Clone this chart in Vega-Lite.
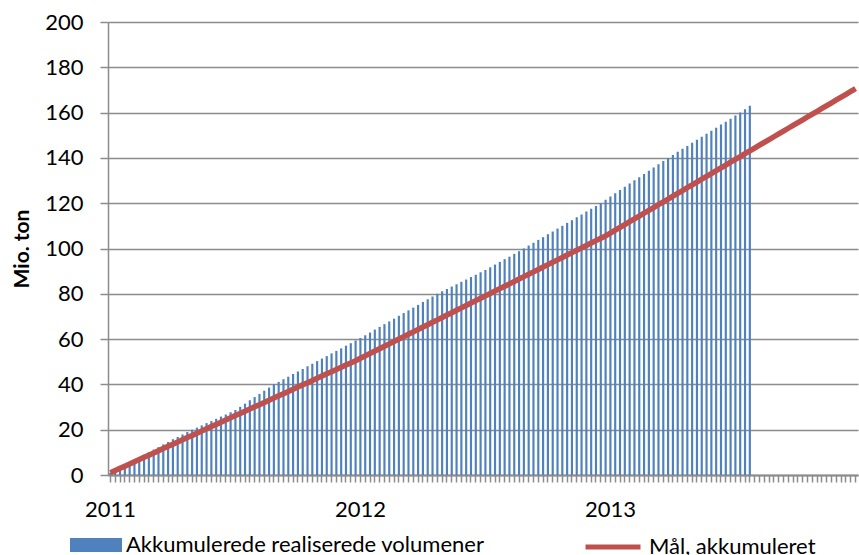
{
"$schema": "https://vega.github.io/schema/vega-lite/v6.json",
"width": 750, "height": 453,
"autosize": {"type": "none"},
"padding": {"left": 108, "top": 22, "right": 1, "bottom": 80},
"background": "white",
"config": {"font": "Lato", "view": {"stroke": null}},
"data": {"values": [
{"w":1,"a":1.0,"t":1.0},{"w":2,"a":2.2,"t":1.97},{"w":3,"a":3.3,"t":2.94},{"w":4,"a":4.5,"t":3.91},{"w":5,"a":5.6,"t":4.88},{"w":6,"a":6.6,"t":5.85},{"w":7,"a":7.8,"t":6.82},{"w":8,"a":8.9,"t":7.79},{"w":9,"a":10.1,"t":8.76},{"w":10,"a":11.2,"t":9.73},
{"w":11,"a":12.3,"t":10.7},{"w":12,"a":13.5,"t":11.67},{"w":13,"a":14.6,"t":12.64},{"w":14,"a":15.8,"t":13.61},{"w":15,"a":16.8,"t":14.58},{"w":16,"a":17.9,"t":15.55},{"w":17,"a":19.0,"t":16.52},{"w":18,"a":20.0,"t":17.49},{"w":19,"a":20.9,"t":18.46},{"w":20,"a":21.9,"t":19.43},
{"w":21,"a":22.9,"t":20.4},{"w":22,"a":23.8,"t":21.37},{"w":23,"a":24.8,"t":22.34},{"w":24,"a":25.8,"t":23.31},{"w":25,"a":26.7,"t":24.28},{"w":26,"a":27.7,"t":25.25},{"w":27,"a":28.7,"t":26.22},{"w":28,"a":30.1,"t":27.19},{"w":29,"a":31.5,"t":28.16},{"w":30,"a":33.0,"t":29.13},
{"w":31,"a":34.4,"t":30.1},{"w":32,"a":35.8,"t":31.07},{"w":33,"a":37.2,"t":32.04},{"w":34,"a":38.6,"t":33.01},{"w":35,"a":40.0,"t":33.98},{"w":36,"a":41.1,"t":34.95},{"w":37,"a":42.3,"t":35.92},{"w":38,"a":43.4,"t":36.89},{"w":39,"a":44.6,"t":37.86},{"w":40,"a":45.7,"t":38.83},
{"w":41,"a":46.8,"t":39.8},{"w":42,"a":48.0,"t":40.77},{"w":43,"a":49.1,"t":41.74},{"w":44,"a":50.3,"t":42.71},{"w":45,"a":51.4,"t":43.68},{"w":46,"a":52.5,"t":44.65},{"w":47,"a":53.7,"t":45.62},{"w":48,"a":54.8,"t":46.59},{"w":49,"a":55.9,"t":47.56},{"w":50,"a":57.1,"t":48.53},
{"w":51,"a":58.2,"t":49.5},{"w":52,"a":59.4,"t":50.47},{"w":53,"a":60.5,"t":51.53},{"w":54,"a":61.7,"t":52.59},{"w":55,"a":62.9,"t":53.65},{"w":56,"a":64.2,"t":54.71},{"w":57,"a":65.4,"t":55.77},{"w":58,"a":66.6,"t":56.83},{"w":59,"a":67.8,"t":57.89},{"w":60,"a":69.0,"t":58.95},
{"w":61,"a":70.3,"t":60.01},{"w":62,"a":71.5,"t":61.07},{"w":63,"a":72.7,"t":62.13},{"w":64,"a":73.9,"t":63.19},{"w":65,"a":75.1,"t":64.25},{"w":66,"a":76.4,"t":65.31},{"w":67,"a":77.6,"t":66.37},{"w":68,"a":78.8,"t":67.43},{"w":69,"a":80.0,"t":68.49},{"w":70,"a":81.1,"t":69.55},
{"w":71,"a":82.1,"t":70.61},{"w":72,"a":83.2,"t":71.67},{"w":73,"a":84.2,"t":72.73},{"w":74,"a":85.3,"t":73.79},{"w":75,"a":86.3,"t":74.85},{"w":76,"a":87.4,"t":75.91},{"w":77,"a":88.4,"t":76.97},{"w":78,"a":89.5,"t":78.03},{"w":79,"a":90.5,"t":79.09},{"w":80,"a":91.7,"t":80.15},
{"w":81,"a":92.9,"t":81.21},{"w":82,"a":94.1,"t":82.27},{"w":83,"a":95.3,"t":83.33},{"w":84,"a":96.4,"t":84.39},{"w":85,"a":97.6,"t":85.45},{"w":86,"a":98.8,"t":86.51},{"w":87,"a":100.0,"t":87.57},{"w":88,"a":101.3,"t":88.63},{"w":89,"a":102.5,"t":89.69},{"w":90,"a":103.8,"t":90.75},
{"w":91,"a":105.0,"t":91.81},{"w":92,"a":106.3,"t":92.87},{"w":93,"a":107.5,"t":93.93},{"w":94,"a":108.8,"t":94.99},{"w":95,"a":110.0,"t":96.05},{"w":96,"a":111.3,"t":97.11},{"w":97,"a":112.5,"t":98.17},{"w":98,"a":113.8,"t":99.23},{"w":99,"a":115.0,"t":100.29},{"w":100,"a":116.3,"t":101.35},
{"w":101,"a":117.5,"t":102.41},{"w":102,"a":118.8,"t":103.47},{"w":103,"a":120.0,"t":104.53},{"w":104,"a":121.5,"t":105.59},{"w":105,"a":123.0,"t":106.84},{"w":106,"a":124.4,"t":108.09},{"w":107,"a":125.8,"t":109.34},{"w":108,"a":127.3,"t":110.59},{"w":109,"a":128.7,"t":111.84},{"w":110,"a":130.1,"t":113.09},
{"w":111,"a":131.5,"t":114.34},{"w":112,"a":132.9,"t":115.59},{"w":113,"a":134.3,"t":116.84},{"w":114,"a":135.8,"t":118.09},{"w":115,"a":137.2,"t":119.34},{"w":116,"a":138.6,"t":120.59},{"w":117,"a":140.0,"t":121.84},{"w":118,"a":141.3,"t":123.09},{"w":119,"a":142.7,"t":124.34},{"w":120,"a":144.0,"t":125.59},
{"w":121,"a":145.3,"t":126.84},{"w":122,"a":146.7,"t":128.09},{"w":123,"a":148.0,"t":129.34},{"w":124,"a":149.3,"t":130.59},{"w":125,"a":150.7,"t":131.84},{"w":126,"a":152.0,"t":133.09},{"w":127,"a":153.3,"t":134.34},{"w":128,"a":154.7,"t":135.59},{"w":129,"a":156.0,"t":136.84},{"w":130,"a":157.3,"t":138.09},
{"w":131,"a":158.7,"t":139.34},{"w":132,"a":160.0,"t":140.59},{"w":133,"a":161.5,"t":141.84},{"w":134,"a":163.0,"t":143.09},{"w":135,"t":144.34},{"w":136,"t":145.59},{"w":137,"t":146.84},{"w":138,"t":148.09},{"w":139,"t":149.34},{"w":140,"t":150.59},
{"w":141,"t":151.84},{"w":142,"t":153.09},{"w":143,"t":154.34},{"w":144,"t":155.59},{"w":145,"t":156.84},{"w":146,"t":158.09},{"w":147,"t":159.34},{"w":148,"t":160.59},{"w":149,"t":161.84},{"w":150,"t":163.09},
{"w":151,"t":164.34},{"w":152,"t":165.59},{"w":153,"t":166.84},{"w":154,"t":168.09},{"w":155,"t":169.34},{"w":156,"t":170.59}
]},
"encoding": {
  "x": {"field": "w", "type": "ordinal", "sort": "ascending",
    "scale": {"paddingInner": 0, "paddingOuter": 0},
    "axis": {"title": null, "labelAngle": 0, "labelOverlap": false,
      "labelExpr": "datum.value == 1 ? '2011' : datum.value == 53 ? '2012' : datum.value == 105 ? '2013' : ''",
      "labelFontSize": 22, "labelColor": "#000000", "labelPadding": 17,
      "tickSize": 7, "tickColor": "#8c8c8c", "tickWidth": 1.5,
      "domainColor": "#8c8c8c", "domainWidth": 2, "grid": false}}
},
"layer": [
  {"mark": {"type": "bar", "width": {"band": 0.45}},
   "transform": [{"filter": "isValid(datum.a)"}],
   "encoding": {
     "y": {"field": "a", "type": "quantitative",
       "scale": {"domain": [0, 200], "nice": false},
       "axis": {"title": "Mio. ton", "titleFontSize": 21, "titleFontWeight": "bold", "titleColor": "#000000",
         "titleX": -80, "titleBaseline": "alphabetic",
         "values": [0,20,40,60,80,100,120,140,160,180,200],
         "labelFontSize": 22, "labelColor": "#000000", "labelPadding": 17,
         "tickSize": 8, "tickColor": "#8c8c8c", "tickWidth": 1.5,
         "domainColor": "#8c8c8c", "domainWidth": 1.5,
         "grid": true, "gridColor": "#8c8c8c", "gridWidth": 1.5}},
     "fill": {"datum": "Akkumulerede realiserede volumener", "type": "nominal",
       "scale": {"range": ["#4F81BD"]},
       "legend": {"title": null, "orient": "none", "legendX": -38, "legendY": 497,
         "symbolType": "M-1,-0.27L1,-0.27L1,0.27L-1,0.27Z", "symbolSize": 2704, "symbolStrokeWidth": 0,
         "labelFontSize": 22, "labelColor": "#000000", "labelOffset": 4, "labelLimit": 0}}
   }},
  {"mark": {"type": "line", "strokeWidth": 5.5},
   "encoding": {
     "y": {"field": "t", "type": "quantitative"},
     "stroke": {"datum": "Mål, akkumuleret", "type": "nominal",
       "scale": {"range": ["#C0504D"]},
       "legend": {"title": null, "orient": "none", "legendX": 475, "legendY": 495,
         "symbolType": "stroke", "symbolSize": 3025, "symbolStrokeWidth": 5,
         "labelFontSize": 22, "labelColor": "#000000", "labelOffset": 6, "labelLimit": 0}}
   }}
]
}
